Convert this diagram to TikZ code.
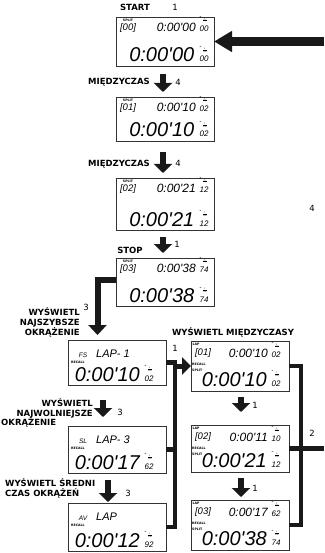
\documentclass[tikz,border=0pt]{standalone}
\usepackage{fontspec}
\setmainfont{DejaVu Sans}
\newfontfamily\lcdfont{Liberation Sans}
\usepackage{graphicx}
\usetikzlibrary{arrows.meta}
\newcommand\frc[1]{\shortstack[l]{{\fontsize{5.5}{5.5}\selectfont ″}\hspace{0.6pt}\scalebox{0.34}{$\frac{1}{100}$}\\[1.3pt]{\lcdfont\itshape\fontsize{8}{8}\selectfont #1}}}
\tikzset{
  box/.style={draw=black!80, line width=0.8pt, minimum width=98pt, inner sep=0pt, outer sep=0pt},
  tinyl/.style={font=\fontsize{3.2}{3.2}\selectfont\bfseries, inner sep=0pt},
  tagf/.style={font=\lcdfont\itshape\fontsize{9.5}{9.5}\selectfont, inner sep=0pt},
  lapf/.style={font=\lcdfont\itshape\fontsize{11}{11}\selectfont, inner sep=0pt, anchor=base west},
  smallf/.style={font=\lcdfont\itshape\fontsize{6.5}{6.5}\selectfont, inner sep=0pt, anchor=base},
  midt/.style={font=\lcdfont\itshape\fontsize{12}{12}\selectfont, inner sep=0pt, anchor=base east},
  bigt/.style={font=\lcdfont\itshape\fontsize{20}{20}\selectfont, inner sep=0pt, anchor=base east},
  frcn/.style={inner sep=0pt, anchor=base west},
  lbl/.style={font=\fontsize{8.5}{10}\selectfont\bfseries, inner sep=0pt},
  num/.style={font=\fontsize{8.5}{8.5}\selectfont, inner sep=0pt},
  darr/.style={draw=black!90, line width=6.5pt, -{Triangle[width=18pt,length=9pt]}},
  conn/.style={draw=black!90, line width=4.5pt},
}
% main column display: name, tag, top time, top frac, big time, big frac
\newcommand\dispA[6]{%
  \node[tinyl] (#1-l) at ([shift={(12,3)}]#1.north west) {SPLIT};
  \node[tagf] (#1-n) at ([shift={(12,11)}]#1.north west) {[#2]};
  \node[midt] (#1-t) at ([shift={(80,14.5)}]#1.north west) {#3};
  \node[frcn] (#1-f) at ([shift={(83.5,14.5)}]#1.north west) {\frc{#4}};
  \node[bigt] (#1-b) at ([shift={(78.5,-4)}]#1.south west) {#5};
  \node[frcn] (#1-g) at ([shift={(83.5,-4)}]#1.south west) {\frc{#6}};
}
% recall lap display: name, small tag, lap text, big time, big frac
\newcommand\dispB[5]{%
  \node[smallf] (#1-s) at ([shift={(15,17)}]#1.north west) {#2};
  \node[lapf] (#1-n) at ([shift={(28,17)}]#1.north west) {#3};
  \node[tinyl, anchor=west] (#1-r) at ([shift={(3,22.5)}]#1.north west) {RECALL};
  \node[bigt] (#1-b) at ([shift={(72,-4)}]#1.south west) {#4};
  \node[frcn] (#1-g) at ([shift={(76.5,-4)}]#1.south west) {\frc{#5}};
}
% split recall display: name, tag, top time, top frac, big time, big frac
\newcommand\dispC[6]{%
  \node[tinyl] (#1-l) at ([shift={(5,3)}]#1.north west) {LAP};
  \node[tagf] (#1-n) at ([shift={(12,12)}]#1.north west) {[#2]};
  \node[midt] (#1-t) at ([shift={(77,16.5)}]#1.north west) {#3};
  \node[frcn] (#1-f) at ([shift={(80.5,16.5)}]#1.north west) {\frc{#4}};
  \node[tinyl, anchor=west] (#1-r) at ([shift={(1,23.5)}]#1.north west) {RECALL};
  \node[tinyl, anchor=west] (#1-p) at ([shift={(1,29)}]#1.north west) {SPLIT};
  \node[bigt] (#1-b) at ([shift={(76,-5)}]#1.south west) {#5};
  \node[frcn] (#1-g) at ([shift={(80.5,-5)}]#1.south west) {\frc{#6}};
}
\begin{document}
\begin{tikzpicture}[x=1pt,y=-1pt]
\useasboundingbox (0,0) rectangle (324,553);
% boxes
\node[box, minimum height=49pt] (b1) at (165,41.5) {};
\node[box, minimum height=44pt] (b2) at (165,119) {};
\node[box, minimum height=52pt] (b3) at (165,204) {};
\node[box, minimum height=48pt] (b4) at (165,282) {};
\node[box, minimum height=45pt] (fs) at (117,362.5) {};
\node[box, minimum height=47pt] (sl) at (117,449.5) {};
\node[box, minimum height=48pt] (av) at (117,527) {};
\node[box, minimum height=50pt] (r1) at (240,366) {};
\node[box, minimum height=47pt] (r2) at (240,448.5) {};
\node[box, minimum height=50pt] (r3) at (240,525) {};
% contents
\dispA{b1}{00}{0:00'00}{00}{0:00'00}{00}
\dispA{b2}{01}{0:00'10}{02}{0:00'10}{02}
\dispA{b3}{02}{0:00'21}{12}{0:00'21}{12}
\dispA{b4}{03}{0:00'38}{74}{0:00'38}{74}
\dispB{fs}{FS}{LAP- 1}{0:00'10}{02}
\dispB{sl}{SL}{LAP- 3}{0:00'17}{62}
\dispB{av}{AV}{LAP}{0:00'12}{92}
\dispC{r1}{01}{0:00'10}{02}{0:00'10}{02}
\dispC{r2}{02}{0:00'11}{10}{0:00'21}{12}
\dispC{r3}{03}{0:00'17}{62}{0:00'38}{74}
% labels
\node[lbl] (tstart) at (135,7) {START};
\node[num] (n1) at (175,7) {1};
\node[lbl, anchor=east] (tm1) at (150,82) {MIĘDZYCZAS};
\node[num] (n2) at (178,82) {4};
\node[lbl, anchor=east] (tm2) at (150,164) {MIĘDZYCZAS};
\node[num] (n3) at (178,163) {4};
\node[lbl] (tstop) at (130,250) {STOP};
\node[num] (n4) at (177,244) {1};
\node[num] (n5) at (312,208) {4};
\node[lbl, anchor=east, align=right] (tfs) at (80,322) {WYŚWIETL\\NAJSZYBSZE\\OKRĄŻENIE};
\node[num] (n6) at (86,307) {3};
\node[lbl, anchor=east, align=right] (tsl) at (93,408) {WYŚWIETL\\NAJWOLNIEJSZE};
\node[lbl, anchor=west] (tsl2) at (1,422) {OKRĄŻENIE};
\node[num] (n7) at (120,412) {3};
\node[lbl, anchor=west, align=left] (tav) at (5,488) {WYŚWIETL ŚREDNI\\CZAS OKRĄŻEŃ};
\node[num] (n8) at (128,493) {3};
\node[lbl] (tr) at (233,332) {WYŚWIETL MIĘDZYCZASY};
\node[num] (n9) at (175,348) {1};
\node[num] (n10) at (255,405) {1};
\node[num] (n11) at (255,488) {1};
\node[num] (n12) at (312,433) {2};
% big entry arrow
\coordinate (ein) at (324,41.5);
\draw[draw=black!90, line width=9pt, -{Triangle[width=20pt,length=18pt]}] (ein) -- (b1.east);
% main column arrows
\draw[darr] ([xshift=-2pt,yshift=-8pt]b1.south) -- ([xshift=-2pt,yshift=5pt]b2.north);
\draw[darr] ([xshift=-2pt,yshift=-11pt]b2.south) -- ([xshift=-2pt,yshift=5pt]b3.north);
\draw[darr] ([xshift=-2pt,yshift=-7pt]b3.south) -- ([xshift=-2pt,yshift=5pt]b4.north);
% stop to fastest lap
\draw[draw=black!90, line width=6pt, -{Triangle[width=18pt,length=10pt]}] ([yshift=2pt]b4.west) -| ([xshift=29.5pt,yshift=5pt]fs.north west);
% recall column arrows
\draw[darr] ([xshift=-14pt,yshift=-15pt]fs.south) -- ([xshift=-14pt,yshift=9pt]sl.north);
\draw[darr] ([xshift=-9pt,yshift=-7pt]sl.south) -- ([xshift=-9pt,yshift=1pt]av.north);
% split column arrows
\draw[darr] ([xshift=1pt,yshift=-6pt]r1.south) -- ([xshift=1pt,yshift=13pt]r2.north);
\draw[darr] ([xshift=1pt,yshift=-6pt]r2.south) -- ([xshift=1pt,yshift=3pt]r3.north);
% middle connector
\coordinate (mj) at (175,0);
\draw[conn] (fs.east) -- (fs.east -| mj) -- (av.east -| mj) -- (av.east);
\draw[conn] (sl.east) -- (sl.east -| mj);
\draw[draw=black!90, line width=5pt, -{Triangle[width=17pt,length=9pt]}] ([xshift=-2.25pt]r1.west -| mj) -- (r1.west);
% right bracket
\coordinate (rj) at (301,0);
\coordinate (re) at (324,0);
\draw[conn] (r1.east) -- (r1.east -| rj) -- (r3.east -| rj) -- (r3.east);
\draw[conn] (r2.east) -- (r2.east -| re);
\end{tikzpicture}
\end{document}
